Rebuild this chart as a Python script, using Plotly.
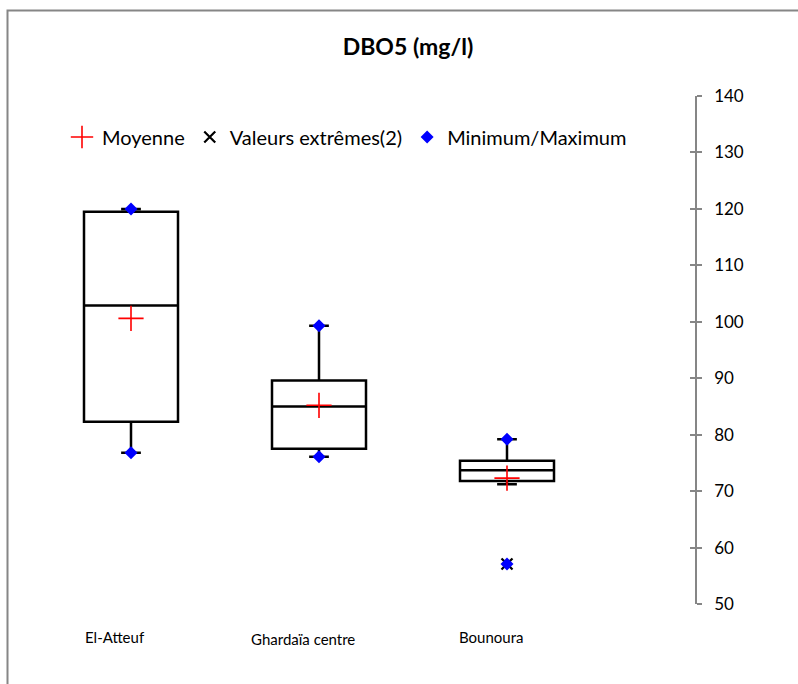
import plotly.graph_objects as go

# ---------------- data ----------------
categories = ["El-Atteuf", "Ghardaïa centre", "Bounoura"]
q1 = [82.3, 77.5, 71.8]
median = [102.9, 85.0, 73.7]
q3 = [119.5, 89.6, 75.4]
lower_whisker = [76.8, 76.1, 71.2]
upper_whisker = [120.0, 99.3, 79.2]
mean = [100.6, 85.2, 72.3]
minmax_x = ["El-Atteuf", "El-Atteuf", "Ghardaïa centre", "Ghardaïa centre", "Bounoura", "Bounoura"]
minmax_y = [76.8, 120.0, 76.1, 99.3, 57.1, 79.2]
extreme_x = ["Bounoura"]
extreme_y = [57.1]
y_ticks = [50, 60, 70, 80, 90, 100, 110, 120, 130, 140]

# ---------------- layout geometry ----------------
W, H = 798, 684
L, R, T, B = 18, 103, 96, 80
pw = W - L - R
ph = H - T - B
cat_px = 188.0          # pixel spacing between categories
first_px = 131.0        # pixel centre of first category
x0 = -(first_px - L) / cat_px
x1 = x0 + pw / cat_px

def px_to_paper_x(px):
    return (px - L) / pw

def px_to_paper_y(py):
    return (H - B - py) / ph

FONT = "Lato, 'Open Sans', sans-serif"
GREY = "#868686"

fig = go.Figure()

fig.add_trace(go.Box(
    x=categories,
    q1=q1, median=median, q3=q3,
    lowerfence=lower_whisker, upperfence=upper_whisker,
    boxpoints=False,
    width=0.5,
    whiskerwidth=0.21,
    fillcolor="white",
    line=dict(color="black", width=2.5),
    showlegend=False,
    hoverinfo="skip",
))

fig.add_trace(go.Scatter(
    x=categories, y=mean, mode="markers", name="Moyenne",
    marker=dict(symbol="cross-thin", size=18, color="red",
                line=dict(color="red", width=1.6)),
))

fig.add_trace(go.Scatter(
    x=extreme_x, y=extreme_y, mode="markers", name="Valeurs extrêmes(2)",
    marker=dict(symbol="x-thin", size=11, color="black",
                line=dict(color="black", width=2.2)),
))

fig.add_trace(go.Scatter(
    x=minmax_x, y=minmax_y, mode="markers", name="Minimum/Maximum",
    marker=dict(symbol="diamond", size=10, color="#0000FF",
                line=dict(width=0)),
))

# invisible overlay axis for the inside half of the "cross" tick marks
fig.add_trace(go.Scatter(x=[categories[0]], y=[None], yaxis="y2",
                         showlegend=False, hoverinfo="skip"))

# category labels (sit slightly left of the boxes, as in the original)
annotations = [
    dict(x=c, y=0, xref="x", yref="paper", text=c, showarrow=False,
         xanchor="center", yanchor="top", xshift=-16, yshift=-22 - (2 if i == 1 else 0),
         font=dict(size=15, family=FONT, color="black"))
    for i, c in enumerate(categories)
]

fig.update_layout(
    width=W, height=H,
    margin=dict(l=L, r=R, t=T, b=B),
    paper_bgcolor="white",
    plot_bgcolor="white",
    font=dict(family=FONT, color="black"),
    title=dict(text="<b>DBO5 (mg/l)</b>", x=px_to_paper_x(408), xref="paper",
               xanchor="center", y=1 - 47 / H, yanchor="middle",
               font=dict(size=23, family=FONT, color="black")),
    showlegend=True,
    legend=dict(orientation="h", x=px_to_paper_x(62), xanchor="left",
                y=px_to_paper_y(137), yanchor="middle",
                font=dict(size=20, family=FONT, color="black"),
                bgcolor="rgba(0,0,0,0)", traceorder="normal"),
    xaxis=dict(
        type="category",
        range=[x0, x1],
        showticklabels=False,
        showline=False, showgrid=False, zeroline=False,
        ticks="",
    ),
    yaxis=dict(
        side="right", range=[50, 140],
        tickvals=y_ticks,
        showline=True, linecolor=GREY, linewidth=1.5,
        ticks="outside", ticklen=5, tickcolor=GREY, tickwidth=1.5,
        ticklabelstandoff=9,
        showgrid=False, zeroline=False,
        tickfont=dict(size=17, family=FONT, color="black"),
    ),
    yaxis2=dict(
        overlaying="y", side="right", range=[50, 140],
        tickvals=y_ticks, showticklabels=False,
        ticks="inside", ticklen=5, tickcolor=GREY, tickwidth=1.5,
        showline=False, showgrid=False, zeroline=False,
    ),
    annotations=annotations,
    shapes=[dict(
        type="path", xref="paper", yref="paper",
        path="M {a},{b} L {a},{c} L {d},{c}".format(
            a=px_to_paper_x(7.5), b=px_to_paper_y(H + 5),
            c=px_to_paper_y(10.5), d=px_to_paper_x(W + 5)),
        line=dict(color=GREY, width=2),
    )],
)

fig.write_html("out.html")
